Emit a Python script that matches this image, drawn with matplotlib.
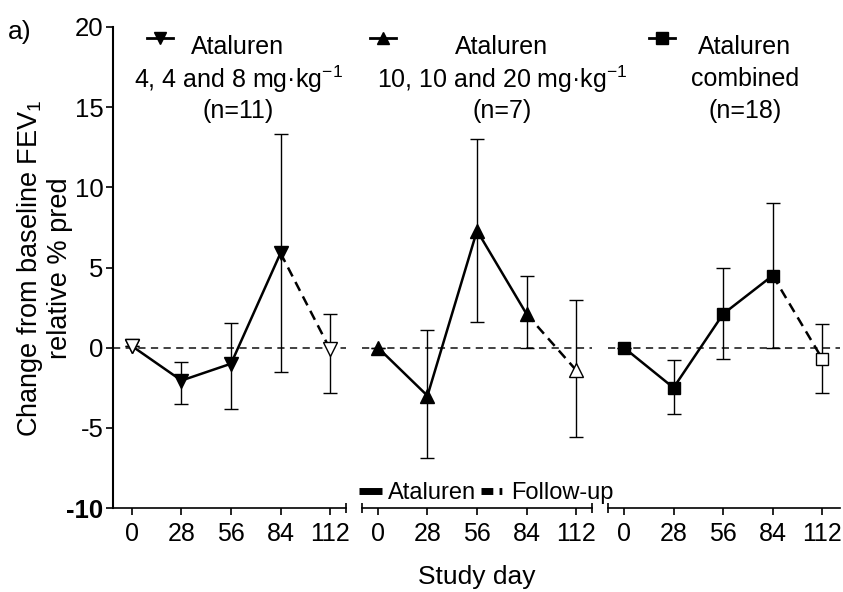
import matplotlib
matplotlib.use("Agg")
import matplotlib.pyplot as plt
from matplotlib.lines import Line2D

plt.rcParams['font.family'] = ['Liberation Sans', 'DejaVu Sans']
plt.rcParams['mathtext.fontset'] = 'custom'
plt.rcParams['mathtext.rm'] = 'Liberation Sans'
plt.rcParams['mathtext.it'] = 'Liberation Sans:italic'
plt.rcParams['axes.unicode_minus'] = False

# study days
days = [0, 28, 56, 84, 112]
day_labels = ['0', '28', '56', '84', '112']

# 4, 4 and 8 mg/kg
low_mean = [0.1, -2.05, -1.0, 5.9, -0.1]
low_lo = [0.1, -3.5, -3.8, -1.5, -2.8]
low_hi = [0.1, -0.9, 1.55, 13.35, 2.1]

# 10, 10 and 20 mg/kg
high_mean = [0.0, -3.0, 7.3, 2.1, -1.4]
high_lo = [0.0, -6.9, 1.6, 0.0, -5.6]
high_hi = [0.0, 1.1, 13.0, 4.5, 3.0]

# combined
comb_mean = [0.0, -2.5, 2.1, 4.5, -0.7]
comb_lo = [0.0, -4.15, -0.7, 0.0, -2.85]
comb_hi = [0.0, -0.75, 5.0, 9.0, 1.5]

titles = [
    ['Ataluren', '4, 4 and 8 mg·kg$^{-1}$', '(n=11)'],
    ['Ataluren', '10, 10 and 20 mg·kg$^{-1}$', '(n=7)'],
    ['Ataluren', 'combined', '(n=18)'],
]
markers = ['v', '^', 's']
groups = [(low_mean, low_lo, low_hi), (high_mean, high_lo, high_hi),
          (comb_mean, comb_lo, comb_hi)]

W, H = 843, 592
fig = plt.figure(figsize=(W / 100, H / 100), dpi=100)

# axes boxes in pixels: left, right
boxes = [(113, 346), (362, 592), (608, 840)]
bottom_px, top_px = 508, 27
xlims = [(-10.7, 121), (-9.0, 121), (-9.0, 122)]
title_x = [238, 502, 745]
marker_x = [160, 383, 662]

axes = []
for i, (l, r) in enumerate(boxes):
    ax = fig.add_axes([l / W, 1 - bottom_px / H, (r - l) / W, (bottom_px - top_px) / H])
    axes.append(ax)
    mean, lo, hi = groups[i]
    yerr = [[m - a for m, a in zip(mean, lo)], [b - m for m, b in zip(mean, hi)]]

    ax.axhline(0, color='#333333', lw=1.3, ls=(0, (4, 3)), zorder=1)
    ax.errorbar(days, mean, yerr=yerr, fmt='none', ecolor='black', elinewidth=1.0,
                capsize=5, capthick=1.0, zorder=2)
    ax.plot(days[:4], mean[:4], color='black', lw=1.8, zorder=3)
    ax.plot(days[3:], mean[3:], color='black', lw=1.8, ls=(0, (4, 2.5)), zorder=3)
    ms = 10 if markers[i] != 's' else 9
    ax.plot(days[:4], mean[:4], ls='none', marker=markers[i], ms=ms,
            mfc='black', mec='black', zorder=4)
    ax.plot(days[4:], mean[4:], ls='none', marker=markers[i], ms=ms,
            mfc='white', mec='black', mew=1.0, zorder=4)
    if i == 0:
        ax.plot(days[:1], mean[:1], ls='none', marker=markers[i], ms=ms,
                mfc='white', mec='black', mew=1.0, zorder=5)

    ax.set_xlim(*xlims[i])
    ax.set_ylim(-10, 20)
    ax.set_xticks(days)
    ax.set_xticklabels(day_labels, fontsize=18)
    ax.tick_params(axis='x', direction='out', length=5, width=1.2, pad=5)
    ax.spines['top'].set_visible(False)
    ax.spines['right'].set_visible(False)
    ax.spines['bottom'].set_linewidth(1.2)
    ax.patch.set_alpha(0)
    if i == 0:
        ax.set_yticks([-10, -5, 0, 5, 10, 15, 20])
        ax.tick_params(axis='y', direction='out', length=5, width=1.2, labelsize=18.5, pad=2)
        ax.get_yticklabels()[0].set_fontweight('bold')
        ax.spines['left'].set_linewidth(1.5)
        caps = [1]
    else:
        ax.spines['left'].set_visible(False)
        ax.set_yticks([])
        caps = [0, 1] if i == 1 else [0]
    ax.plot(caps, [0] * len(caps), transform=ax.transAxes, ls='none', marker='|',
            ms=7, mew=1.2, color='black', clip_on=False)

    # header with marker and text
    my = 1 - 38 / H
    fig.add_artist(Line2D([(marker_x[i] - 13) / W, (marker_x[i] + 13) / W], [my, my],
                          color='black', lw=2))
    fig.add_artist(Line2D([marker_x[i] / W], [my], marker=markers[i], ms=9,
                          color='black', ls='none'))
    for k, line in enumerate(titles[i]):
        fig.text(title_x[i] / W, 1 - (47 + 32 * k) / H, line, ha='center', va='center',
                 fontsize=18)

axes[1].set_xlabel('Study day', fontsize=19, labelpad=14)

fig.text(44 / W, 1 - 268 / H, 'Change from baseline FEV$_1$\nrelative % pred', rotation=90,
         ha='center', va='center', fontsize=19.5, linespacing=1.1)
fig.text(8 / W, 1 - 32 / H, 'a)', ha='left', va='center', fontsize=19)

handles = [Line2D([], [], color='black', lw=5, solid_capstyle='butt'),
           Line2D([], [], color='black', lw=5, ls=(0, (1.7, 0.9, 0.4, 0.9)),
                  dash_capstyle='butt')]
fig.legend(handles, ['Ataluren', 'Follow-up'], loc='center', bbox_to_anchor=(486 / W, 1 - 493 / H),
           ncol=2, frameon=False, fontsize=17, handlelength=1.0, handletextpad=0.25,
           columnspacing=0.2, borderpad=0)

fig.savefig('out.png', dpi=100)
